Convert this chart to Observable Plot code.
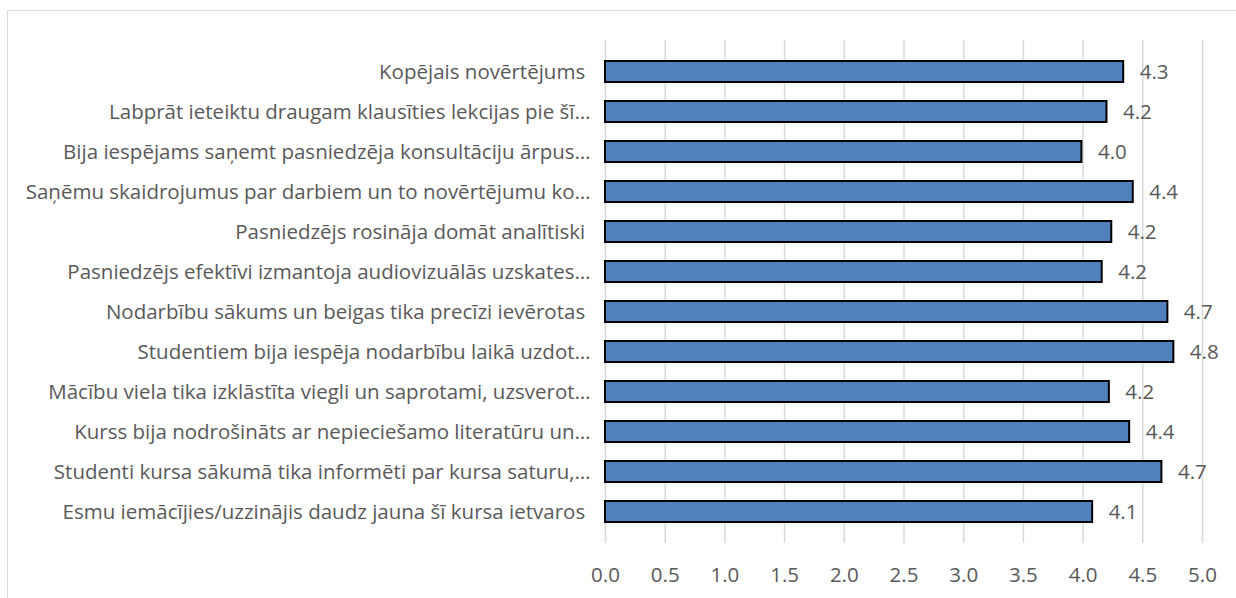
<!DOCTYPE html>
<html>
<head>
<meta charset="utf-8">
<script src="https://cdn.jsdelivr.net/npm/d3@7"></script>
<script src="https://cdn.jsdelivr.net/npm/@observablehq/plot@0.6"></script>
<style>
  html, body { margin: 0; padding: 0; background: #fff; }
  #wrap { position: relative; width: 1236px; height: 598px; overflow: hidden; }
  #frame { position: absolute; left: 7px; top: 10px; width: 1300px; height: 700px; border: 1.5px solid #d9d9d9; box-sizing: border-box; }
  #chart { position: absolute; left: 0; top: 0; }
  #chart svg text { white-space: pre; }
</style>
</head>
<body>
<div id="wrap"><div id="frame"></div><div id="chart"></div></div>
<script>
const categories = [
  "Kopējais novērtējums ",
  "Labprāt ieteiktu draugam klausīties lekcijas pie šī…",
  "Bija iespējams saņemt pasniedzēja konsultāciju ārpus…",
  "Saņēmu skaidrojumus par darbiem un to novērtējumu ko…",
  "Pasniedzējs rosināja domāt analītiski ",
  "Pasniedzējs efektīvi izmantoja audiovizuālās uzskates…",
  "Nodarbību sākums un beigas tika precīzi ievērotas ",
  "Studentiem bija iespēja nodarbību laikā uzdot…",
  "Mācību viela tika izklāstīta viegli un saprotami, uzsverot…",
  "Kurss bija nodrošināts ar nepieciešamo literatūru un…",
  "Studenti kursa sākumā tika informēti par kursa saturu,…",
  "Esmu iemācījies/uzzinājis daudz jauna šī kursa ietvaros "
];
const values = [4.34, 4.20, 3.99, 4.42, 4.24, 4.16, 4.71, 4.76, 4.22, 4.39, 4.66, 4.08];
const xTicks = [0, 0.5, 1, 1.5, 2, 2.5, 3, 3.5, 4, 4.5, 5];

const data = categories.map((c, i) => ({category: c, value: values[i]}));
const font = "'Open Sans', Lato, sans-serif";
const grey = "#595959";
const fs = 20.5;

const chart = Plot.plot({
  width: 1236,
  height: 598,
  marginTop: 40,
  marginBottom: 55,
  marginLeft: 605,
  marginRight: 34,
  style: {fontFamily: font, fontSize: fs + "px", color: grey, background: "transparent"},
  x: {domain: [0, 5], ticks: xTicks, tickFormat: d => d.toFixed(1)},
  y: {domain: categories, padding: 0.48},
  marks: [
    Plot.gridX(xTicks, {stroke: "#d9d9d9", strokeOpacity: 1, strokeWidth: 1.5}),
    Plot.axisX({ticks: xTicks, tickFormat: d => d.toFixed(1), tickSize: 0, tickPadding: 24, fill: grey, fontSize: fs, label: null}),
    Plot.axisY({tickSize: 0, tickPadding: 15, fill: grey, fontSize: fs, label: null, tickFormat: d => d.replace(/ $/, "\u00a0")}),
    Plot.barX(data, {x: "value", y: "category", fill: "#4f81bd", stroke: "#000", strokeWidth: 2}),
    Plot.text(data, {x: "value", y: "category", text: d => d.value.toFixed(1), dx: 16, textAnchor: "start", fill: grey, fontSize: fs})
  ]
});
document.getElementById("chart").appendChild(chart);
</script>
</body>
</html>
